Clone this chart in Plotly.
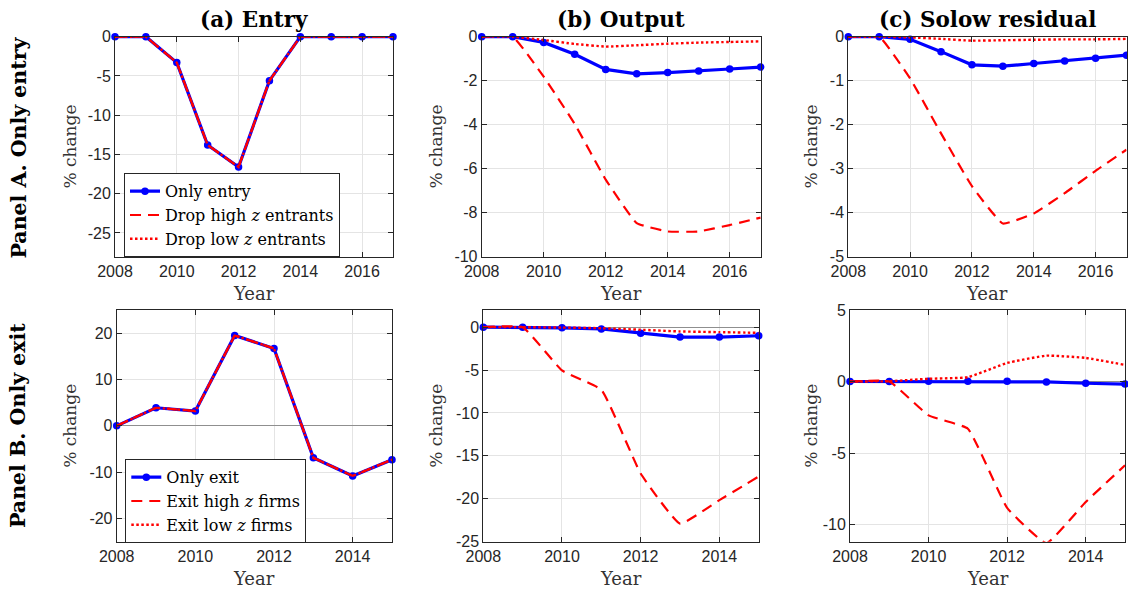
import plotly.graph_objects as go

# ---- data -------------------------------------------------------------
years_entry = [2008, 2009, 2010, 2011, 2012, 2013, 2014, 2015, 2016, 2017]
years_exit = [2008, 2009, 2010, 2011, 2012, 2013, 2014, 2015]

# Panel A: only entry
entry_only = [0, 0, -3.3, -13.8, -16.6, -5.6, 0, 0, 0, 0]
entry_drop_high = [0, 0, -3.3, -13.8, -16.6, -5.6, 0, 0, 0, 0]
entry_drop_low = [0, 0, -3.3, -13.8, -16.6, -5.6, 0, 0, 0, 0]

output_entry_only = [0, 0, -0.26, -0.80, -1.49, -1.69, -1.63, -1.56, -1.47, -1.38]
output_entry_high = [0, 0, -1.82, -3.97, -6.5, -8.48, -8.86, -8.86, -8.57, -8.23]
output_entry_low = [0, 0, -0.15, -0.33, -0.45, -0.39, -0.32, -0.27, -0.24, -0.21]

solow_entry_only = [0, 0, -0.06, -0.34, -0.64, -0.67, -0.61, -0.55, -0.49, -0.42]
solow_entry_high = [0, 0, -0.95, -2.2, -3.4, -4.25, -4.02, -3.56, -3.05, -2.57]
solow_entry_low = [0, 0, -0.015, -0.05, -0.09, -0.08, -0.07, -0.06, -0.06, -0.05]

# Panel B: only exit
exit_only = [0, 3.9, 3.2, 19.5, 16.7, -6.9, -10.8, -7.3]
exit_high = [0, 3.9, 3.2, 19.5, 16.7, -6.9, -10.8, -7.3]
exit_low = [0, 3.9, 3.2, 19.5, 16.7, -6.9, -10.8, -7.3]

output_exit_only = [0, 0, -0.08, -0.2, -0.7, -1.16, -1.16, -1.0]
output_exit_high = [0, 0, -5.04, -7.3, -17.05, -22.9, -20.16, -17.4]
output_exit_low = [0, 0, -0.05, -0.12, -0.3, -0.5, -0.58, -0.66]

solow_exit_only = [0, 0, 0.02, 0.02, 0.02, -0.03, -0.12, -0.18]
solow_exit_high = [0, 0, -2.37, -3.3, -8.84, -11.3, -8.42, -5.86]
solow_exit_low = [0, 0.02, 0.19, 0.3, 1.3, 1.81, 1.65, 1.16]

legend_entry = ["Only entry", "Drop high <i>z</i> entrants", "Drop low <i>z</i> entrants"]
legend_exit = ["Only exit", "Exit high <i>z</i> firms", "Exit low <i>z</i> firms"]
col_titles = ["<b>(a) Entry</b>", "<b>(b) Output</b>", "<b>(c) Solow residual</b>"]
row_titles = ["<b>Panel A. Only entry</b>", "<b>Panel B. Only exit</b>"]

# y ticks per panel
y_ticks = [[-25, -20, -15, -10, -5, 0], [-10, -8, -6, -4, -2, 0], [-5, -4, -3, -2, -1, 0],
           [-20, -10, 0, 10, 20], [-25, -20, -15, -10, -5, 0], [-10, -5, 0, 5]]
y_ranges = [[-28, 0], [-10, 0], [-5, 0], [-25, 25], [-25, 2], [-11.2, 5]]
x_ticks = [[2008, 2010, 2012, 2014, 2016]] * 3 + [[2008, 2010, 2012, 2014]] * 3
x_ranges = [[2008, 2017]] * 3 + [[2008, 2015]] * 3

# ---- layout geometry (pixels) ------------------------------------------
W, H = 1128, 590
x_px = [[115, 393], [481.7, 760.7], [848.3, 1126.5],
        [116.7, 392], [483.3, 758.7], [850, 1125]]
y_px_top = [36.7, 256.5]
y_px_bot = [310, 541.7]

BLUE = "#0000ff"
RED = "#ff0000"
AX = "#262626"
SERIF = "DejaVu Serif"
SANS = "Liberation Sans"

fig = go.Figure()


def add_panel(idx, years, only, high, low, names, smooth, legend_name=None):
    xa = "x" if idx == 1 else f"x{idx}"
    ya = "y" if idx == 1 else f"y{idx}"
    show = legend_name is not None
    shape = "spline" if smooth else "linear"
    fig.add_trace(go.Scatter(
        x=years, y=only, xaxis=xa, yaxis=ya, mode="lines+markers",
        name=names[0], showlegend=show, legend=legend_name or "legend",
        line=dict(color=BLUE, width=3.2),
        marker=dict(color=BLUE, size=7.5, symbol="circle"),
        cliponaxis=False))
    fig.add_trace(go.Scatter(
        x=years, y=high, xaxis=xa, yaxis=ya, mode="lines",
        name=names[1], showlegend=show, legend=legend_name or "legend",
        line=dict(color=RED, width=2.2, dash="11px,7px", shape=shape,
                  smoothing=0.35)))
    fig.add_trace(go.Scatter(
        x=years, y=low, xaxis=xa, yaxis=ya, mode="lines",
        name=names[2], showlegend=show, legend=legend_name or "legend",
        line=dict(color=RED, width=2.4, dash="2.5px,2.5px", shape=shape,
                  smoothing=0.35)))


add_panel(1, years_entry, entry_only, entry_drop_high, entry_drop_low,
          legend_entry, False, "legend")
add_panel(2, years_entry, output_entry_only, output_entry_high, output_entry_low,
          legend_entry, True)
add_panel(3, years_entry, solow_entry_only, solow_entry_high, solow_entry_low,
          legend_entry, True)
add_panel(4, years_exit, exit_only, exit_high, exit_low,
          legend_exit, False, "legend2")
add_panel(5, years_exit, output_exit_only, output_exit_high, output_exit_low,
          legend_exit, True)
add_panel(6, years_exit, solow_exit_only, solow_exit_high, solow_exit_low,
          legend_exit, True)

axis_common = dict(
    showline=True, linecolor=AX, linewidth=1, mirror="ticks",
    ticks="inside", ticklen=5, tickcolor=AX, tickwidth=1,
    showgrid=True, gridcolor="#e4e4e4", gridwidth=1, automargin=False,
    tickfont=dict(family=SANS, size=16, color=AX),
)

layout = {}
for i in range(6):
    n = i + 1
    key_x = "xaxis" if n == 1 else f"xaxis{n}"
    key_y = "yaxis" if n == 1 else f"yaxis{n}"
    ypx = y_px_top if i < 3 else y_px_bot
    xd = [x_px[i][0] / W, x_px[i][1] / W]
    yd = [1 - ypx[1] / H, 1 - ypx[0] / H]
    layout[key_x] = dict(axis_common, domain=xd, range=x_ranges[i],
                         anchor="y" if n == 1 else f"y{n}",
                         tickmode="array", tickvals=x_ticks[i],
                         ticktext=[str(v) for v in x_ticks[i]], zeroline=False)
    layout[key_y] = dict(axis_common, domain=yd, range=y_ranges[i],
                         anchor="x" if n == 1 else f"x{n}",
                         tickmode="array", tickvals=y_ticks[i],
                         ticktext=[str(v) for v in y_ticks[i]],
                         zeroline=(i >= 3),
                         zerolinecolor="#8f8f8f", zerolinewidth=1.2)

annotations = []
# column titles
for i in range(3):
    cx = (x_px[i][0] + x_px[i][1]) / 2 / W
    annotations.append(dict(text=col_titles[i], x=cx, y=1 - 19 / H,
                            xref="paper", yref="paper", showarrow=False,
                            xanchor="center", yanchor="middle",
                            font=dict(family=SERIF, size=21.5, color="#000")))
# row titles
for r, cy in enumerate([147.5, 426]):
    annotations.append(dict(text=row_titles[r], x=18 / W, y=1 - cy / H,
                            xref="paper", yref="paper", showarrow=False,
                            textangle=-90, xanchor="center", yanchor="middle",
                            font=dict(family=SERIF, size=20.5, color="#000")))
# axis labels
ylab_x = [70, 436, 811, 70, 436, 811]
for i in range(6):
    ypx = y_px_top if i < 3 else y_px_bot
    cy = (ypx[0] + ypx[1]) / 2
    annotations.append(dict(text="% change", x=ylab_x[i] / W, y=1 - cy / H,
                            xref="paper", yref="paper", showarrow=False,
                            textangle=-90, xanchor="center", yanchor="middle",
                            font=dict(family=SERIF, size=17, color="#333")))
    cx = (x_px[i][0] + x_px[i][1]) / 2
    yy = 293 if i < 3 else 578
    annotations.append(dict(text="Year", x=cx / W, y=1 - yy / H,
                            xref="paper", yref="paper", showarrow=False,
                            xanchor="center", yanchor="middle",
                            font=dict(family=SERIF, size=18, color="#333")))

legend_style = dict(bgcolor="white", bordercolor=AX, borderwidth=1,
                    font=dict(family=SERIF, size=16, color="#000"),
                    xanchor="left", yanchor="top", tracegroupgap=0,
                    itemwidth=30)

fig.update_layout(
    template="none",
    width=W, height=H, margin=dict(l=0, r=0, t=0, b=0, pad=0),
    paper_bgcolor="white", plot_bgcolor="white",
    annotations=annotations,
    legend=dict(legend_style, x=124 / W, y=1 - 173.3 / H),
    legend2=dict(legend_style, x=125.3 / W, y=1 - 459.3 / H),
    **layout,
)

# the page body carries a default margin; drop it so the figure sits at 0,0
fig.write_html("out.html",
               post_script="document.body.style.margin='0';")
